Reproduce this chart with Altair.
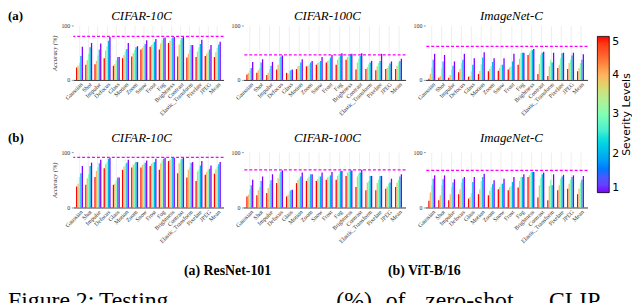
import altair as alt
import pandas as pd

SERIF = "Liberation Serif"
SANS = "DejaVu Sans"

categories = ["Gaussian", "Shot", "Impulse", "Defocus", "Glass", "Motion", "Zoom",
              "Snow", "Frost", "Fog", "Brightness", "Contrast", "Elastic_Transform",
              "Pixelate", "JPEG", "Mean"]
levels = ["5", "4", "3", "2", "1"]  # bar order inside each group

# accuracy per corruption, listed as [severity 5, 4, 3, 2, 1]
rn_c10 = [[23, 26, 31, 44, 61], [28, 36, 48, 60, 68], [29, 35, 45, 56, 67], [40, 54, 62, 72, 79],
          [26, 29, 36, 42, 42], [40, 46, 53, 57, 68], [43, 49, 55, 60, 62], [56, 59, 63, 66, 73],
          [61, 64, 66, 70, 75], [56, 67, 73, 77, 78], [68, 72, 76, 78, 79], [43, 65, 73, 77, 79],
          [41, 48, 56, 64, 64], [42, 52, 60, 66, 74], [44, 48, 52, 56, 64], [42, 51, 59, 65, 70]]
rn_c100 = [[10, 13, 18, 22, 33], [13, 18, 22, 32, 38], [9, 13, 20, 26, 33], [19, 28, 40, 43, 45],
           [13, 12, 17, 18, 19], [20, 25, 26, 32, 38], [25, 26, 29, 32, 35], [28, 31, 33, 35, 42],
           [32, 35, 37, 41, 46], [28, 37, 42, 45, 49], [37, 42, 45, 47, 48], [19, 32, 39, 44, 49],
           [20, 23, 29, 32, 35], [18, 25, 31, 35, 48], [20, 22, 26, 30, 34], [20, 26, 32, 35, 39]]
rn_in = [[2, 11, 23, 37, 48], [4, 7, 21, 34, 46], [4, 9, 19, 26, 34], [14, 20, 31, 37, 48],
         [6, 7, 16, 28, 40], [11, 17, 29, 41, 51], [16, 20, 25, 33, 40], [17, 22, 28, 28, 40],
         [19, 23, 25, 34, 48], [28, 39, 49, 50, 50], [46, 50, 53, 55, 57], [11, 29, 46, 50, 52],
         [7, 25, 37, 32, 50], [22, 28, 40, 49, 50], [20, 31, 37, 45, 50], [16, 22, 31, 37, 47]]
vit_c10 = [[38, 43, 55, 62, 75], [41, 53, 60, 75, 81], [55, 66, 72, 80, 86], [71, 78, 82, 88, 90],
           [41, 43, 49, 54, 54], [68, 74, 78, 81, 86], [72, 77, 80, 82, 82], [72, 77, 78, 81, 85],
           [75, 79, 81, 82, 88], [68, 80, 85, 88, 90], [84, 86, 89, 90, 90], [62, 80, 85, 88, 90],
           [54, 68, 72, 81, 82], [48, 65, 69, 76, 84], [59, 64, 68, 70, 76], [61, 69, 74, 78, 82]]
vit_c100 = [[20, 23, 32, 40, 50], [22, 31, 37, 48, 56], [26, 35, 43, 49, 60], [44, 53, 60, 65, 67],
            [20, 23, 29, 31, 32], [44, 50, 53, 56, 63], [48, 53, 56, 60, 60], [48, 51, 56, 56, 63],
            [50, 54, 56, 58, 64], [50, 57, 60, 66, 66], [57, 63, 65, 67, 67], [37, 56, 62, 63, 68],
            [31, 45, 48, 57, 57], [31, 44, 50, 57, 57], [34, 38, 43, 45, 52], [37, 45, 50, 56, 60]]
vit_in = [[12, 27, 40, 52, 58], [13, 22, 40, 51, 58], [13, 24, 37, 45, 51], [24, 33, 45, 52, 55],
          [16, 19, 26, 46, 55], [24, 33, 48, 55, 61], [22, 30, 36, 42, 49], [33, 37, 43, 43, 52],
          [31, 36, 39, 46, 55], [36, 48, 55, 55, 60], [55, 58, 63, 64, 64], [18, 40, 54, 60, 63],
          [13, 39, 50, 40, 60], [31, 40, 52, 56, 59], [34, 43, 50, 55, 58], [24, 34, 45, 50, 57]]

clean_acc = [80, 46, 61.5, 90.5, 68, 67]
titles = ["CIFAR-10C", "CIFAR-100C", "ImageNet-C", "CIFAR-10C", "CIFAR-100C", "ImageNet-C"]
row_tags = ["(a)", "(b)"]
captions = ["(a) ResNet-101", "(b) ViT-B/16"]
fig_words = ["Figure 2:", "Testing", "(%)", "of", "zero-shot", "CLIP"]
fig_word_x = [-66, 26, 266, 316, 356, 481]
legend_title = ["Severity Levels"]

rainbow = ["#8000ff", "#4062fa", "#00b5eb", "#40ecd4", "#80ffb4",
           "#c0eb8d", "#ffb462", "#ff6232", "#ff0000"]

widths = [152, 164, 164]
heights = [55, 56]
title_x = [69, 85, 87]
title_y = [-6, -10]

legend = alt.Legend(
    orient="none", legendX=530, legendY=11, direction="vertical",
    gradientLength=158, gradientThickness=12, gradientStrokeColor="black",
    gradientStrokeWidth=0.8, values=[1, 2, 3, 4, 5], format="d",
    labelFont=SANS, labelFontSize=11, labelColor="black", labelOffset=3,
    title=None,
)


def txt(values, **kw):
    return alt.Chart(pd.DataFrame({"t": values})).mark_text(**kw)


def panel(vals, clean, title, col, row):
    rows = []
    for cat, v in zip(categories, vals):
        for lvl, a in zip(levels, v):
            rows.append({"Corruption": cat, "Lvl": lvl, "Severity": int(lvl), "Accuracy": a})
    df = pd.DataFrame(rows)
    bars = alt.Chart(df).mark_bar().encode(
        x=alt.X("Corruption:N", sort=categories,
                scale=alt.Scale(paddingInner=0.24, paddingOuter=0.3),
                axis=alt.Axis(title=None, labelAngle=-45, labelFontSize=6, labelFont=SERIF,
                              labelColor="#333", ticks=False, domainColor="black",
                              domainWidth=0.8, labelPadding=1, grid=True, gridColor="#e2e2e2",
                              gridWidth=0.6, labelOverlap=False, labelBound=False)),
        xOffset=alt.XOffset("Lvl:N", sort=levels, scale=alt.Scale(paddingInner=0.1)),
        y=alt.Y("Accuracy:Q", scale=alt.Scale(domain=[0, 100], nice=False),
                axis=alt.Axis(values=[0, 20, 40, 60, 80, 100], labelFontSize=6, labelFont=SERIF,
                              labelColor="#333", domain=False, tickSize=2, tickColor="#999",
                              labelPadding=1.5, grid=False,
                              title="Accuracy (%)" if col == 0 else None, titleFontSize=6.5,
                              titleFont=SERIF, titleFontStyle="italic", titleFontWeight="normal",
                              titleColor="#333", titlePadding=3)),
        color=alt.Color("Severity:Q",
                        scale=alt.Scale(domain=[1, 5], range=rainbow),
                        legend=legend),
    )
    rule = alt.Chart(pd.DataFrame({"clean": [clean]})).mark_rule(
        color="#ff00ff", strokeDash=[3, 2], strokeWidth=1.2
    ).encode(y="clean:Q")
    head = txt([title], font=SERIF, fontSize=13, fontStyle="italic", align="center",
               baseline="alphabetic", color="black").encode(
        text="t:N", x=alt.value(title_x[col]), y=alt.value(title_y[row]))
    layers = [bars, rule, head]
    if col == 0:
        layers.append(
            txt([row_tags[row]], font=SERIF, fontSize=13, fontWeight="bold", align="left",
                baseline="alphabetic").encode(
                text="t:N", x=alt.value(-66), y=alt.value(title_y[row])))
        if row == 1:
            for i, xx in enumerate([156, 355]):
                layers.append(
                    txt([captions[i]], font=SERIF, fontSize=14, fontWeight="bold",
                        align="center", baseline="alphabetic").encode(
                        text="t:N", x=alt.value(xx), y=alt.value(124)))
            for w, xx in zip(fig_words, fig_word_x):
                layers.append(
                    txt([w], font=SERIF, fontSize=24, align="left",
                        baseline="alphabetic").encode(
                        text="t:N", x=alt.value(xx), y=alt.value(158)))
    if col == 2 and row == 0:
        layers.append(
            txt(legend_title, font=SANS, fontSize=11, angle=270, align="center",
                baseline="middle", color="black").encode(
                text="t:N", x=alt.value(204), y=alt.value(90)))
    return alt.layer(*layers).properties(width=widths[col], height=heights[row])


all_vals = [rn_c10, rn_c100, rn_in, vit_c10, vit_c100, vit_in]
charts = [panel(all_vals[i], clean_acc[i], titles[i], i % 3, i // 3) for i in range(6)]

chart = alt.concat(*charts, columns=3, spacing={"row": 73, "column": 20}, bounds="flush").properties(
    padding=0
).configure_view(stroke=None)

chart.save("out.html", embed_options={"renderer": "svg", "actions": False})
